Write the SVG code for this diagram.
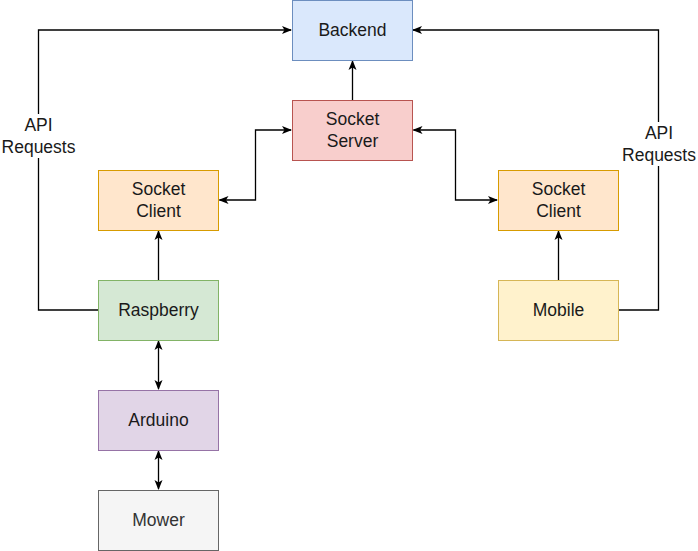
<svg xmlns="http://www.w3.org/2000/svg" width="698" height="551" viewBox="0 0 698 551">
<defs>
<style>
.t{font-family:"Liberation Sans",Arial,sans-serif;font-size:17.5px;fill:#1a1a1a;text-anchor:middle}
.e{fill:none;stroke:#000;stroke-width:1.3}
</style>
<marker id="a" viewBox="0 0 10 10" refX="9" refY="5" markerWidth="10" markerHeight="10" markerUnits="userSpaceOnUse" orient="auto-start-reverse">
<path d="M0,1 L10,5 L0,9 L2.5,5 Z" fill="#000"/>
</marker>
</defs>
<rect width="698" height="551" fill="#fff"/>
<g id="connectors">
<path class="e" d="M98.5,310 H38.5 V30 H291" marker-end="url(#a)"/>
<path class="e" d="M618.5,310 H658.5 V30 H413" marker-end="url(#a)"/>
<path class="e" d="M352.5,100 V61" marker-end="url(#a)"/>
<path class="e" d="M219.5,200 H255.5 V130 H291" marker-start="url(#a)" marker-end="url(#a)"/>
<path class="e" d="M413.5,130 H455.5 V200 H497" marker-start="url(#a)" marker-end="url(#a)"/>
<path class="e" d="M158.5,280 V231" marker-end="url(#a)"/>
<path class="e" d="M558.5,280 V231" marker-end="url(#a)"/>
<path class="e" d="M158.5,341 V389" marker-start="url(#a)" marker-end="url(#a)"/>
<path class="e" d="M158.5,451 V489" marker-start="url(#a)" marker-end="url(#a)"/>
<rect x="0" y="114" width="77" height="44" fill="#fff"/>
<text class="t" x="38.5" y="131">API</text>
<text class="t" x="38.5" y="153">Requests</text>
<rect x="620" y="122" width="78" height="44" fill="#fff"/>
<text class="t" x="659" y="139">API</text>
<text class="t" x="659" y="161">Requests</text>
</g>
<g id="backend"><rect x="292.5" y="0.5" width="120" height="60" fill="#dae8fc" stroke="#6c8ebf"/><text class="t" x="352.5" y="36">Backend</text></g>
<g id="socket-server"><rect x="292.5" y="100.5" width="120" height="60" fill="#f8cecc" stroke="#b85450"/><text class="t" x="352.5" y="125">Socket</text><text class="t" x="352.5" y="147">Server</text></g>
<g id="socket-client-left"><rect x="98.5" y="170.5" width="120" height="60" fill="#ffe6cc" stroke="#d79b00"/><text class="t" x="158.5" y="195">Socket</text><text class="t" x="158.5" y="217">Client</text></g>
<g id="socket-client-right"><rect x="498.5" y="170.5" width="120" height="60" fill="#ffe6cc" stroke="#d79b00"/><text class="t" x="558.5" y="195">Socket</text><text class="t" x="558.5" y="217">Client</text></g>
<g id="raspberry"><rect x="98.5" y="280.5" width="120" height="60" fill="#d5e8d4" stroke="#82b366"/><text class="t" x="158.5" y="316">Raspberry</text></g>
<g id="mobile"><rect x="498.5" y="280.5" width="120" height="60" fill="#fff2cc" stroke="#d6b656"/><text class="t" x="558.5" y="316">Mobile</text></g>
<g id="arduino"><rect x="98.5" y="390.5" width="120" height="60" fill="#e1d5e7" stroke="#9673a6"/><text class="t" x="158.5" y="426">Arduino</text></g>
<g id="mower"><rect x="98.5" y="490.5" width="120" height="60" fill="#f5f5f5" stroke="#666666"/><text class="t" x="158.5" y="526" style="fill:#333333">Mower</text></g>
</svg>
